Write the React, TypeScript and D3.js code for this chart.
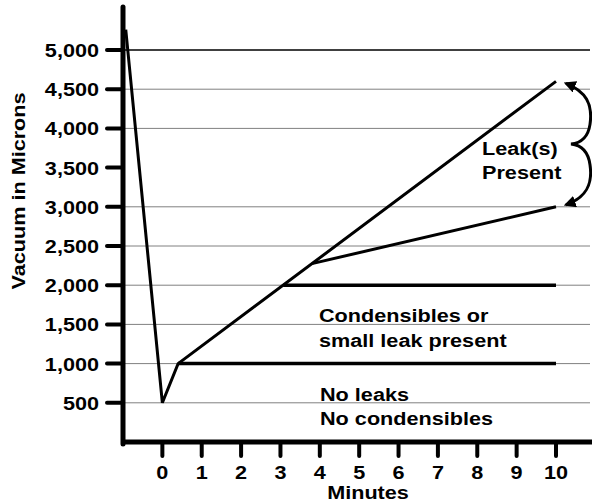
import React from 'react';
import * as d3 from 'd3';

// evacuation curve: pump-down, then rise after isolation
const mainMinutes = [-0.93, 0, 0.4, 10];
const mainValues = [5260, 500, 1000, 4600];

// second leak curve branching off the main rise
const branchMinutes = [3.8, 10];
const branchValues = [2275, 3000];

// flat "holding" lines
const holdLevels = [1000, 2000];
const holdStart = [0.4, 3.07];
const holdEnd = 10;

const yTicks = [500, 1000, 1500, 2000, 2500, 3000, 3500, 4000, 4500, 5000];
const gridLevels = [500, 1000, 1500, 2000, 2500, 3000, 4000, 4500, 5000];
const xTicks = [0, 1, 2, 3, 4, 5, 6, 7, 8, 9, 10];

const W = 592;
const H = 504;
const FONT = '"Liberation Sans", Arial, Helvetica, sans-serif';
const STRETCH = 1.17; // the original lettering is a wide bold grotesque

const textStyle = {
  fontFamily: FONT,
  fontWeight: 'bold' as const,
  fontSize: 18.5,
  fill: '#000',
};

const T: React.FC<{ x: number; y: number; anchor?: string; rotate?: number; children: React.ReactNode }> = ({
  x,
  y,
  anchor = 'start',
  rotate = 0,
  children,
}) => (
  <text
    transform={`translate(${x},${y}) rotate(${rotate}) scale(${STRETCH},1)`}
    textAnchor={anchor}
    style={textStyle}
  >
    {children}
  </text>
);

const App: React.FC = () => {
  const x = d3.scaleLinear().domain([-1, 10]).range([123, 556]);
  const y = d3.scaleLinear().domain([0, 5000]).range([442, 50]);

  const line = d3
    .line<[number, number]>()
    .x((d) => x(d[0]))
    .y((d) => y(d[1]));

  const mainPts = mainMinutes.map((m, i) => [m, mainValues[i]] as [number, number]);
  const branchPts = branchMinutes.map((m, i) => [m, branchValues[i]] as [number, number]);

  // curly brace with arrows on the right side
  const bx = x(10);
  const top = y(4600) + 2;
  const bot = y(3000) - 2;
  const mid = (top + bot) / 2;
  const brace = d3.path();
  brace.moveTo(bx + 10, top);
  brace.bezierCurveTo(bx + 30, top + 8, bx + 37, top + 21, bx + 34, top + 41);
  brace.bezierCurveTo(bx + 32, mid - 6, bx + 24, mid - 1, bx + 15, mid);
  brace.bezierCurveTo(bx + 24, mid + 1, bx + 32, mid + 6, bx + 34, bot - 40);
  brace.bezierCurveTo(bx + 37, bot - 20, bx + 30, bot - 7, bx + 10, bot);

  return (
    <svg
      width={W}
      height={H}
      style={{ position: 'absolute', left: 0, top: 0, background: '#fff' }}
    >
      <defs>
        <marker
          id="arrow"
          viewBox="0 0 10 10"
          refX="8"
          refY="5"
          markerWidth="4"
          markerHeight="4"
          orient="auto-start-reverse"
        >
          <path d="M0,0 L10,5 L0,10 Z" fill="#000" />
        </marker>
      </defs>

      {/* gridlines */}
      {gridLevels.map((v) => (
        <line
          key={`g${v}`}
          x1={x(-1)}
          x2={590}
          y1={y(v)}
          y2={y(v)}
          stroke={v === 5000 ? '#000' : '#808080'}
          strokeWidth={v === 5000 ? 1.3 : 1}
        />
      ))}

      {/* y axis */}
      <line x1={x(-1)} x2={x(-1)} y1={7} y2={y(0) + 2} stroke="#000" strokeWidth={5} strokeLinecap="round" />
      {yTicks.map((v) => (
        <g key={`y${v}`}>
          <line x1={107} x2={x(-1)} y1={y(v)} y2={y(v)} stroke="#000" strokeWidth={4} strokeLinecap="round" />
          <T x={99} y={y(v) + 7} anchor="end">
            {d3.format(',')(v)}
          </T>
        </g>
      ))}

      {/* x axis */}
      <line x1={x(-1)} x2={W} y1={y(0)} y2={y(0)} stroke="#000" strokeWidth={5} />
      {xTicks.map((t) => (
        <g key={`x${t}`}>
          <line x1={x(t)} x2={x(t)} y1={y(0)} y2={y(0) + 14} stroke="#000" strokeWidth={4} strokeLinecap="round" />
          <T x={x(t)} y={479} anchor="middle">
            {t}
          </T>
        </g>
      ))}

      <T x={368} y={499} anchor="middle">
        Minutes
      </T>
      <T x={25} y={191} anchor="middle" rotate={-90}>
        Vacuum in Microns
      </T>

      {/* data lines */}
      {holdLevels.map((v, i) => (
        <line
          key={`h${v}`}
          x1={x(holdStart[i])}
          x2={x(holdEnd)}
          y1={y(v)}
          y2={y(v)}
          stroke="#000"
          strokeWidth={3.5}
        />
      ))}
      <path d={line(mainPts) ?? ''} fill="none" stroke="#000" strokeWidth={3} strokeLinejoin="miter" />
      <path d={line(branchPts) ?? ''} fill="none" stroke="#000" strokeWidth={3} />

      {/* brace */}
      <path
        d={brace.toString()}
        fill="none"
        stroke="#000"
        strokeWidth={3}
        markerStart="url(#arrow)"
        markerEnd="url(#arrow)"
      />

      {/* annotations */}
      <T x={482} y={155}>Leak(s)</T>
      <T x={482} y={179}>Present</T>
      <T x={319} y={322}>Condensibles or</T>
      <T x={319} y={347}>small leak present</T>
      <T x={320} y={401}>No leaks</T>
      <T x={320} y={425}>No condensibles</T>
    </svg>
  );
};

export default App;
